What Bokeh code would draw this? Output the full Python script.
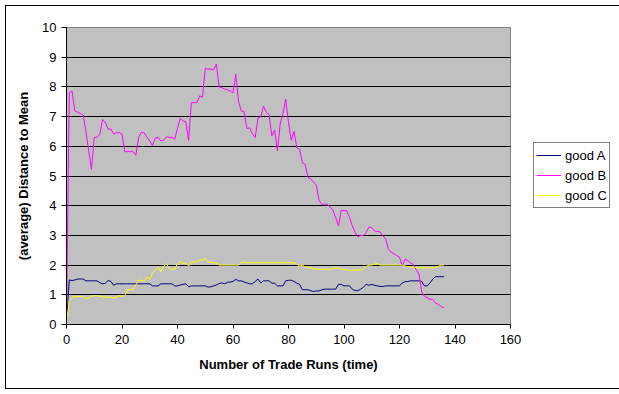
from bokeh.plotting import figure
from bokeh.models import FixedTicker, Legend, LegendItem, ColumnDataSource
from bokeh.embed import file_html
from bokeh.resources import INLINE

# ---- data ----
good_a = [0.1, 1.5, 1.48, 1.5, 1.53, 1.53, 1.53, 1.47, 1.47, 1.47,
          1.47, 1.47, 1.41, 1.37, 1.39, 1.48, 1.45, 1.32, 1.37, 1.37,
          1.37, 1.37, 1.37, 1.37, 1.37, 1.37, 1.37, 1.37, 1.37, 1.37,
          1.37, 1.3, 1.3, 1.3, 1.37, 1.37, 1.37, 1.37, 1.37, 1.3,
          1.3, 1.33, 1.35, 1.37, 1.27, 1.3, 1.3, 1.3, 1.3, 1.3,
          1.3, 1.26, 1.27, 1.3, 1.33, 1.38, 1.4, 1.37, 1.42, 1.43,
          1.45, 1.52, 1.47, 1.47, 1.43, 1.4, 1.37, 1.37, 1.45, 1.53,
          1.4, 1.47, 1.47, 1.47, 1.39, 1.39, 1.3, 1.3, 1.3, 1.47,
          1.49, 1.49, 1.45, 1.39, 1.35, 1.17, 1.17, 1.17, 1.14, 1.11,
          1.13, 1.13, 1.17, 1.19, 1.19, 1.19, 1.19, 1.19, 1.35, 1.35,
          1.3, 1.3, 1.3, 1.19, 1.14, 1.14, 1.19, 1.26, 1.35, 1.32,
          1.35, 1.32, 1.3, 1.28, 1.28, 1.3, 1.3, 1.3, 1.3, 1.3,
          1.3, 1.4, 1.44, 1.45, 1.47, 1.47, 1.47, 1.47, 1.45, 1.3,
          1.3, 1.4, 1.53, 1.61, 1.61, 1.61, 1.61]

good_b = [0.1, 7.8, 7.86, 7.19, 7.15, 7.1, 7.05, 6.5, 5.85, 5.23,
          6.3, 6.3, 6.4, 6.9, 6.8, 6.58, 6.58, 6.41, 6.46, 6.46,
          6.41, 5.82, 5.82, 5.82, 5.82, 5.7, 6.3, 6.47, 6.45, 6.3,
          6.18, 6.02, 6.28, 6.3, 6.18, 6.2, 6.32, 6.3, 6.3, 6.24,
          6.6, 6.95, 6.85, 6.83, 6.2, 7.47, 7.47, 7.47, 7.7, 7.65,
          8.62, 8.6, 8.6, 8.57, 8.77, 8.0, 7.97, 7.93, 7.9, 7.86,
          7.8, 8.42, 7.5, 7.19, 7.17, 6.6, 6.62, 6.42, 6.3, 6.95,
          7.0, 7.35, 7.15, 7.07, 6.35, 6.55, 5.85, 6.75, 7.1, 7.58,
          6.8, 6.2, 6.5, 5.95, 5.9, 5.44, 5.4, 4.96, 4.9, 4.8,
          4.7, 4.18, 4.05, 4.05, 4.05, 3.95, 3.85, 3.6, 3.32, 3.85,
          3.83, 3.83, 3.6, 3.32, 3.1, 2.95, 3.0, 2.99, 3.1, 3.28,
          3.26, 3.15, 3.13, 3.12, 2.99, 2.88, 2.55, 2.43, 2.38, 2.32,
          2.27, 1.98, 2.2, 2.15, 2.07, 2.02, 1.85, 1.7, 1.1, 0.95,
          0.9, 0.85, 0.84, 0.72, 0.68, 0.6, 0.57]

good_c = [0.05, 0.8, 0.92, 0.94, 0.94, 0.94, 0.94, 0.87, 0.9, 0.95,
          0.97, 0.97, 0.95, 0.93, 0.92, 0.93, 0.92, 0.89, 0.93, 0.97,
          0.95, 0.97, 1.17, 1.17, 1.18, 1.33, 1.5, 1.48, 1.47, 1.6,
          1.52, 1.72, 1.83, 1.93, 1.78, 1.95, 2.05, 1.89, 1.86, 1.86,
          2.06, 2.12, 2.05, 2.08, 1.97, 2.11, 2.11, 2.11, 2.17, 2.17,
          2.22, 2.11, 2.09, 2.08, 2.07, 2.0, 2.0, 2.0, 2.0, 2.0,
          2.0, 2.0, 2.0, 2.1, 2.1, 2.08, 2.08, 2.08, 2.08, 2.08,
          2.08, 2.08, 2.08, 2.08, 2.08, 2.08, 2.08, 2.08, 2.08, 2.08,
          2.08, 2.08, 2.08, 2.03, 1.97, 2.0, 1.94, 1.93, 1.91, 1.87,
          1.86, 1.86, 1.86, 1.86, 1.86, 1.86, 1.88, 1.9, 1.9, 1.87,
          1.85, 1.84, 1.83, 1.83, 1.83, 1.83, 1.83, 1.87, 1.95, 2.0,
          2.0, 2.03, 2.06, 2.0, 2.0, 2.0, 2.0, 2.0, 2.0, 2.0,
          2.0, 2.0, 1.97, 1.95, 1.94, 1.93, 1.91, 1.91, 1.91, 1.91,
          1.91, 1.91, 1.91, 1.91, 1.96, 2.0, 2.0]

runs = list(range(len(good_a)))
series_names = ["good A", "good B", "good C"]
x_ticks = [0, 20, 40, 60, 80, 100, 120, 140, 160]
y_ticks = [0, 1, 2, 3, 4, 5, 6, 7, 8, 9, 10]
grid_ticks = [1, 2, 3, 4, 5, 6, 7, 8, 9]

FONT = "Liberation Sans"

p = figure(frame_width=444, frame_height=297, x_range=(0, 160), y_range=(0, 10),
           output_backend="svg", toolbar_location=None,
           min_border_left=60, min_border_right=102,
           min_border_top=21, min_border_bottom=64,
           background_fill_color="#C0C0C0", border_fill_color="white",
           outline_line_color="#808080", outline_line_width=1,
           styles={"margin-left": "6px", "margin-top": "6px",
                   "box-shadow": "0 0 0 1px black"})

src = ColumnDataSource(dict(x=runs, a=good_a, b=good_b, c=good_c))
ra = p.line("x", "a", source=src, line_color="#000080", line_width=1)
rb = p.line("x", "b", source=src, line_color="#FF00FF", line_width=1)
rc = p.line("x", "c", source=src, line_color="#FFFF00", line_width=1)

p.xaxis.ticker = FixedTicker(ticks=x_ticks)
p.yaxis.ticker = FixedTicker(ticks=y_ticks)
for ax in (p.xaxis[0], p.yaxis[0]):
    ax.axis_line_color = "black"
    ax.major_tick_line_color = "black"
    ax.major_tick_in = 0
    ax.minor_tick_line_color = None
    ax.major_label_text_font = FONT
    ax.major_label_text_font_size = "13px"
    ax.major_label_text_color = "black"
    ax.axis_label_text_font = FONT
    ax.axis_label_text_font_size = "13px"
    ax.axis_label_text_font_style = "bold"
    ax.axis_label_text_color = "black"

p.xaxis.major_tick_out = 4
p.yaxis.major_tick_out = 5
p.xaxis.major_label_standoff = 6
p.yaxis.major_label_standoff = 5
p.xaxis.axis_label = "Number of Trade Runs (time)"
p.yaxis.axis_label = "(average) Distance to Mean"
p.xaxis.axis_label_standoff = 10
p.yaxis.axis_label_standoff = 8

p.xgrid.visible = False
p.ygrid.ticker = FixedTicker(ticks=grid_ticks)
p.ygrid.grid_line_color = "black"
p.ygrid.grid_line_width = 1

legend = Legend(items=[LegendItem(label=series_names[0], renderers=[ra]),
                       LegendItem(label=series_names[1], renderers=[rb]),
                       LegendItem(label=series_names[2], renderers=[rc])],
                location=(23, 116),
                border_line_color="black", border_line_width=1,
                background_fill_color="white", background_fill_alpha=1,
                label_text_font=FONT, label_text_font_size="13px",
                label_text_color="black",
                glyph_width=25, glyph_height=20, label_height=20,
                spacing=0, padding=2, margin=0, label_standoff=4)
p.add_layout(legend, "right")

open("out.html", "w").write(file_html(p, INLINE))
